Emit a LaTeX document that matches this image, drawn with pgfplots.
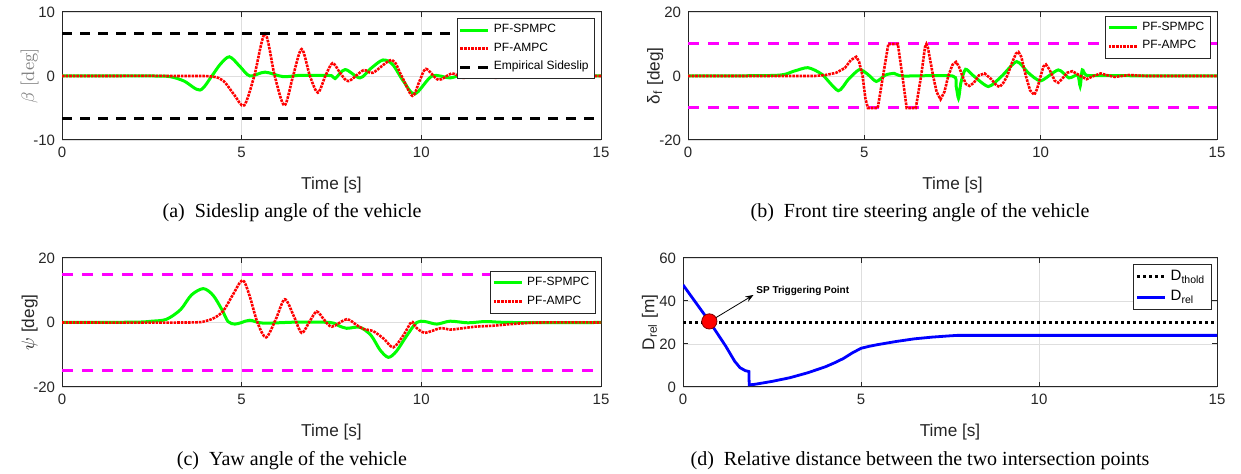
\documentclass[border=0pt]{standalone}
\usepackage{fontspec}
\setsansfont{Liberation Sans}
\newfontfamily\capfont{Liberation Serif}
\usepackage{pgfplots}
\pgfplotsset{compat=1.18}
\usetikzlibrary{arrows.meta}
\definecolor{mgreen}{rgb}{0,1,0}
\definecolor{mmag}{rgb}{1,0,1}
\definecolor{axgray}{rgb}{0.15,0.15,0.15}
\definecolor{grdgray}{rgb}{0.87,0.87,0.87}

\pgfplotsset{
  matlab/.style={
    scale only axis, anchor=south west,
    xmin=0, xmax=15, xtick={0,5,10,15},
    axis line style={axgray, line width=0.5pt},
    tick align=inside, major tick length=2.5pt,
    tick style={axgray, line width=0.5pt},
    grid=major, major grid style={grdgray, line width=0.4pt},
    /pgf/number format/assume math mode=true,
    ticklabel style={font=\sffamily\fontsize{7.5}{8}\selectfont, text=axgray},
    xlabel={Time [s]},
    xlabel style={at={(axis description cs:0.5,-0.35)}, anchor=center,
      font=\sffamily\fontsize{8.6}{10}\selectfont, text=axgray},
    ylabel style={anchor=center, font=\sffamily\fontsize{8.6}{10}\selectfont, text=axgray},
    legend cell align=left,
    legend image code/.code={\draw[##1] (0pt,0pt) -- (14pt,0pt);},
    legend style={font=\sffamily\fontsize{6}{7}\selectfont, draw=axgray,
      line width=0.4pt, fill=white, inner sep=1pt, row sep=-0.5pt, anchor=north east},
  },
  sp/.style={mgreen, line width=1.5pt},
  ap/.style={red, line width=1.3pt, dash pattern=on 1.3pt off 0.5pt},
  lim/.style={mmag, line width=1.5pt, dash pattern=on 5.5pt off 4.5pt},
}

\begin{document}
\begin{tikzpicture}
\useasboundingbox (0pt,0pt) rectangle (620.5pt,237pt);

% (a) sideslip
\begin{axis}[matlab, at={(31pt,167pt)}, width=269.5pt, height=64pt,
  ymin=-10, ymax=10, ytick={-10,0,10},
  ylabel={$\beta$ [deg]},
  ylabel style={at={(axis description cs:-0.06,0.5)}, text=gray, font=\rmfamily\fontsize{9}{10}\selectfont},
  legend style={at={(0.989,0.953)}}]
\addplot[sp, smooth, tension=0.5] coordinates {
 (0,0)(2.5,0)(3.0,-0.1)(3.4,-0.8)(3.84,-2.2)(4.17,0)(4.4,1.8)(4.66,3.0)(4.95,1.5)
 (5.23,0)(5.65,0.6)(6.15,-0.1)(6.6,0.1)(7.0,0.1)(7.5,0.05)(7.6,-0.4)(7.88,1.0)
 (8.29,-0.3)(8.6,1.2)(8.93,2.5)(9.2,1.8)(9.5,-0.8)(9.82,-2.8)(10.3,0)(10.8,-0.3)
 (11.2,0.3)(11.7,0)(12.2,0.1)(15,0)};
\addlegendentry{PF-SPMPC}
\addplot[ap, smooth, tension=0.5] coordinates {
 (0,0)(3.5,0)(4.2,-0.1)(4.5,-0.8)(4.8,-3.0)(5.07,-4.6)(5.35,0)(5.65,6.6)(5.92,0)
 (6.19,-4.6)(6.43,0)(6.67,4.2)(6.9,0)(7.12,-2.6)(7.33,0)(7.53,2.0)(7.75,0.4)
 (7.97,-0.8)(8.39,0.9)(8.65,0.5)(9.18,2.5)(9.45,0)(9.75,-3.1)(9.95,-0.8)(10.13,1.1)
 (10.48,-0.6)(10.85,0.4)(11.17,-0.3)(11.6,0.1)(12.1,-0.3)(12.6,0)(15,0)};
\addlegendentry{PF-AMPC}
\addplot[black, line width=1.5pt, dash pattern=on 5pt off 4pt] coordinates {(0,6.7)(15,6.7)};
\addlegendentry{Empirical Sideslip}
\addplot[black, line width=1.5pt, dash pattern=on 5pt off 4pt, forget plot] coordinates {(0,-6.7)(15,-6.7)};
\end{axis}

% (b) steering
\begin{axis}[matlab, at={(344pt,167pt)}, width=264.5pt, height=64pt,
  ymin=-20, ymax=20, ytick={-20,0,20},
  ylabel={δ\textsubscript{f} [deg]},
  ylabel style={at={(axis description cs:-0.062,0.5)}},
  legend style={at={(0.988,0.97)}}]
\addplot[lim, forget plot] coordinates {(0,10)(15,10)};
\addplot[lim, forget plot] coordinates {(0,-10)(15,-10)};
\addplot[sp, smooth, tension=0.4] coordinates {
 (0,0)(2.5,0.2)(3.0,1.5)(3.4,2.6)(3.8,0.5)(4.26,-4.6)(4.55,-1)(4.86,2.0)(5.1,0.5)
 (5.34,-1.7)(5.6,0.3)(5.85,0.8)(6.1,0)(7.5,0)(7.6,-3)(7.67,-7)(7.74,-2)(7.87,2.1)
 (8.1,0)(8.52,-3.3)(8.9,0)(9.32,4.5)(9.65,1)(10.0,-1.5)(10.5,1.9)(10.8,-0.6)
 (11.05,0.3)(11.12,-3.2)(11.18,1.9)(11.3,0.2)(11.8,0.1)(15,0)};
\addlegendentry{PF-SPMPC}
\addplot[ap] coordinates {
 (0,0)(3.6,0)(3.9,0.3)(4.2,1.0)(4.45,2.5)(4.62,5.0)(4.77,6.0)(4.85,4.5)(4.95,0)
 (5.03,-7)(5.1,-10)(5.38,-10)(5.53,0)(5.68,10)(5.95,10)(6.08,0)(6.2,-10)(6.46,-10)
 (6.61,0)(6.72,9)(6.76,10)(6.8,9)(6.95,0)(7.05,-5)(7.16,-7.3)(7.27,-5)(7.38,0)
 (7.5,3.5)(7.6,4.4)(7.68,3)(7.78,0)(7.88,-2.5)(7.98,-3.1)(8.1,-2.2)(8.25,0.2)
 (8.41,0.8)(8.6,-1)(8.75,-3)(8.84,-3.4)(8.95,-2)(9.05,0)(9.2,4.5)(9.3,7)(9.37,7.5)
 (9.45,6)(9.58,0)(9.7,-4.5)(9.82,-5.9)(9.9,-4)(10.0,0)(10.08,3)(10.15,3.6)(10.25,2)
 (10.4,-1.5)(10.5,-2.1)(10.6,-1)(10.75,1)(10.9,1.5)(11.05,0.5)(11.3,-1.0)(11.5,0)
 (11.7,0.8)(11.9,0.2)(12.1,-0.3)(12.5,0.3)(13,0)(15,0)};
\addlegendentry{PF-AMPC}
\end{axis}

% (c) yaw
\begin{axis}[matlab, at={(31pt,43.5pt)}, width=269.5pt, height=64.5pt,
  ymin=-20, ymax=20, ytick={-20,0,20},
  ylabel={$\psi$ [deg]},
  ylabel style={at={(axis description cs:-0.06,0.5)}},
  legend style={at={(0.99,0.9)}}]
\addplot[lim, forget plot] coordinates {(0,15)(15,15)};
\addplot[lim, forget plot] coordinates {(0,-15)(15,-15)};
\addplot[sp, smooth, tension=0.5] coordinates {
 (0,0)(2.0,0.1)(2.5,0.4)(2.91,1.0)(3.3,4)(3.6,8.5)(3.93,10.5)(4.2,8.5)(4.45,4)
 (4.62,0.3)(4.81,-0.5)(5.0,0)(5.23,0.7)(5.6,-0.2)(6.5,0.1)(7.46,0)(7.7,-1.0)
 (7.92,-1.8)(8.29,-1.5)(8.6,-4)(8.85,-8.5)(9.08,-10.8)(9.3,-9)(9.6,-4)(9.87,0)
 (10.1,0.3)(10.43,-0.5)(10.8,0.4)(11.3,-0.1)(11.8,0.3)(12.5,0)(15,0)};
\addlegendentry{PF-SPMPC}
\addplot[ap, smooth, tension=0.5] coordinates {
 (0,0)(3.5,0)(4.0,0.5)(4.25,1.5)(4.49,3.6)(4.75,8.5)(5.02,13.1)(5.2,9)(5.44,0)
 (5.68,-4.6)(5.95,1)(6.2,7.2)(6.45,2)(6.67,-3.2)(6.9,0.5)(7.09,3.4)(7.3,0.8)
 (7.51,-1.3)(7.92,1.0)(8.2,-0.8)(8.39,-2.0)(8.66,-2.7)(8.95,-5)(9.22,-7.7)(9.5,-4)
 (9.73,0.2)(9.85,-1.5)(10.1,-3.2)(10.52,-1.8)(10.8,-2.2)(11.0,-2.0)(11.5,-1.3)
 (12.0,-1.0)(12.5,-0.5)(13.3,0)(15,0)};
\addlegendentry{PF-AMPC}
\end{axis}

% (d) relative distance
\begin{axis}[matlab, at={(341.5pt,43.5pt)}, width=267pt, height=64.5pt,
  ymin=0, ymax=60, ytick={0,20,40,60},
  ylabel={D\textsubscript{rel} [m]},
  ylabel style={at={(axis description cs:-0.062,0.5)}},
  legend style={at={(0.99,0.955)}, font=\sffamily\fontsize{7.5}{8.5}\selectfont}]
\addplot[black, line width=1.5pt, dash pattern=on 1.5pt off 1.5pt] coordinates {(0,30)(15,30)};
\addlegendentry{D\textsubscript{thold}}
\addplot[blue, line width=1.4pt] coordinates {
 (0,47.5)(0.74,30.5)(1.2,19)(1.45,12)(1.6,9)(1.75,7.6)(1.85,7.2)(1.86,1)(2.0,1.2)
 (2.5,2.6)(3,4.3)(3.5,6.6)(3.75,8)(4,9.4)(4.25,11.2)(4.5,13.2)(4.75,15.8)(5.0,18)
 (5.25,19)(5.5,19.8)(6,21.2)(6.5,22.4)(7,23.2)(7.5,23.8)(7.7,24)(15,24)};
\addlegendentry{D\textsubscript{rel}}
\addplot[only marks, mark=*, mark size=3.8pt, mark options={fill=red, draw=red!50!black, line width=0.4pt}, forget plot]
 coordinates {(0.74,30.5)};
\draw[-{Stealth[length=4pt]}, line width=0.4pt] (axis cs:0.9,32) -- (axis cs:1.98,42.8);
\node[anchor=west, font=\sffamily\bfseries\fontsize{5}{6}\selectfont, inner sep=0pt]
 at (axis cs:2.05,44.8) {SP Triggering Point};
\end{axis}

% captions
\node[font=\capfont\fontsize{10}{12}\selectfont] at (146pt,130.5pt) {(a)\ \ Sideslip angle of the vehicle};
\node[font=\capfont\fontsize{10}{12}\selectfont] at (460pt,130.5pt) {(b)\ \ Front tire steering angle of the vehicle};
\node[font=\capfont\fontsize{10}{12}\selectfont] at (146pt,6.5pt) {(c)\ \ Yaw angle of the vehicle};
\node[font=\capfont\fontsize{10}{12}\selectfont] at (460pt,6.5pt) {(d)\ \ Relative distance between the two intersection points};
\end{tikzpicture}
\end{document}
